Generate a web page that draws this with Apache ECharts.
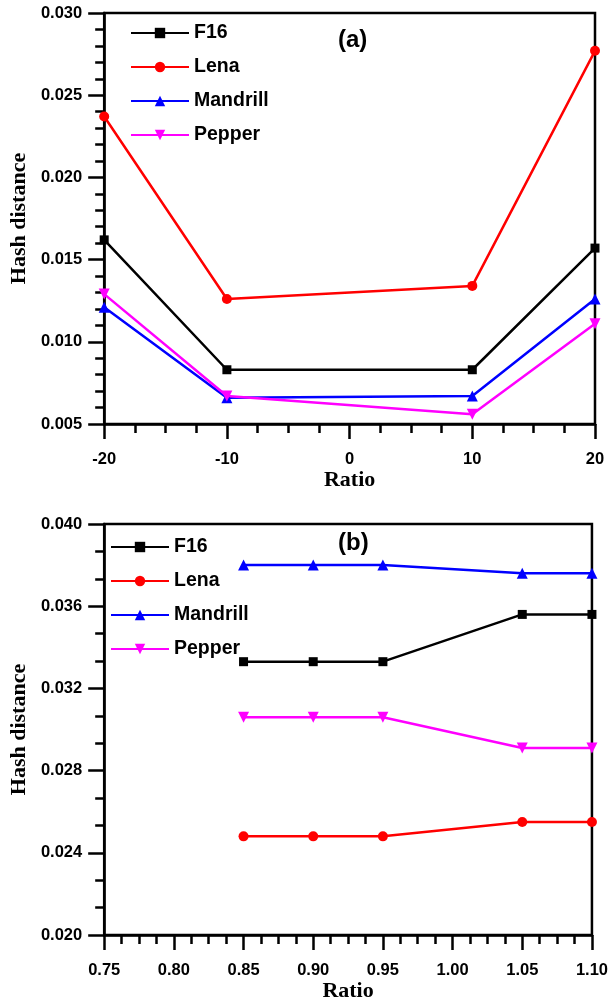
<!DOCTYPE html>
<html>
<head>
<meta charset="utf-8">
<script src="https://cdn.jsdelivr.net/npm/echarts@6/dist/echarts.min.js"></script>
<style>
html,body{margin:0;padding:0;background:#fff;}
#c{width:611px;height:1003px;}
</style>
</head>
<body>
<div id="c"></div>
<script>
// ---- data ----
var seriesNames = ['F16', 'Lena', 'Mandrill', 'Pepper'];
// panel (a)
var ratioA = [-20, -10, 10, 20];
var f16A = [0.0162, 0.0083, 0.0083, 0.0157];
var lenaA = [0.0237, 0.0126, 0.0134, 0.0277];
var mandrillA = [0.0121, 0.0066, 0.0067, 0.0126];
var pepperA = [0.0129, 0.0067, 0.0056, 0.0111];
// panel (b)
var ratioB = [0.85, 0.90, 0.95, 1.05, 1.10];
var f16B = [0.0333, 0.0333, 0.0333, 0.0356, 0.0356];
var lenaB = [0.0248, 0.0248, 0.0248, 0.0255, 0.0255];
var mandrillB = [0.0380, 0.0380, 0.0380, 0.0376, 0.0376];
var pepperB = [0.0306, 0.0306, 0.0306, 0.0291, 0.0291];

var colors = ['#000000', '#ff0000', '#0000ff', '#ff00ff'];
var symbols = ['rect', 'circle', 'triangle', 'triangle'];
var symbolSizes = [9, 10, 11, 11];
var symbolRotates = [0, 0, 0, 180];

function pairs(xs, ys) { return xs.map(function (x, i) { return [x, ys[i]]; }); }

var tickFont = { fontFamily: 'Liberation Sans, Arial, sans-serif', fontWeight: 'bold', fontSize: 16.5, color: '#000' };
var nameFont = { fontFamily: 'Liberation Serif, Times New Roman, serif', fontWeight: 'bold', fontSize: 22, color: '#000' };
var axisLine = { show: true, onZero: false, lineStyle: { color: '#000', width: 2.5 } };

function xAxis(gi, min, max, interval, minorSplit, fmt, gap) {
  return {
    type: 'value', gridIndex: gi, min: min, max: max, interval: interval,
    name: 'Ratio', nameLocation: 'middle', nameGap: gap, nameTextStyle: nameFont,
    axisLine: axisLine,
    axisTick: { show: true, inside: false, length: 15, lineStyle: { color: '#000', width: 2.5 } },
    minorTick: { show: true, splitNumber: minorSplit, length: 9, lineStyle: { color: '#000', width: 2.5 } },
    splitLine: { show: false },
    axisLabel: Object.assign({ margin: 27, formatter: fmt }, tickFont)
  };
}
function yAxis(gi, min, max, interval, minorSplit) {
  return {
    type: 'value', gridIndex: gi, min: min, max: max, interval: interval,
    name: 'Hash distance', nameLocation: 'middle', nameGap: 72, nameTextStyle: nameFont,
    axisLine: axisLine,
    axisTick: { show: true, inside: false, length: 16, lineStyle: { color: '#000', width: 2.5 } },
    minorTick: { show: true, splitNumber: minorSplit, length: 9, lineStyle: { color: '#000', width: 2.5 } },
    splitLine: { show: false },
    axisLabel: Object.assign({ margin: 22, formatter: function (v) { return v.toFixed(3); } }, tickFont)
  };
}

var dataA = [f16A, lenaA, mandrillA, pepperA];
var dataB = [f16B, lenaB, mandrillB, pepperB];
var series = [];
[ [ratioA, dataA, 0], [ratioB, dataB, 1] ].forEach(function (p) {
  seriesNames.forEach(function (n, i) {
    series.push({
      type: 'line', name: n, xAxisIndex: p[2], yAxisIndex: p[2],
      data: pairs(p[0], p[1][i]),
      symbol: symbols[i], symbolSize: symbolSizes[i], symbolRotate: symbolRotates[i],
      showAllSymbol: true,
      lineStyle: { color: colors[i], width: 2.5 },
      itemStyle: { color: colors[i] },
      emphasis: { disabled: true },
      animation: false
    });
  });
});

var legendCommon = {
  orient: 'vertical', itemWidth: 58, itemHeight: 13, itemGap: 14, padding: 0,
  textStyle: { fontFamily: 'Liberation Sans, Arial, sans-serif', fontWeight: 'bold', fontSize: 19.5, color: '#000', padding: [0, 0, 0, 0] },
  data: seriesNames, selectedMode: false
};

var chart = echarts.init(document.getElementById('c'), null, { renderer: 'canvas' });
chart.setOption({
  backgroundColor: '#fff',
  animation: false,
  grid: [
    { left: 98, top: 13, width: 497, height: 411, show: true, borderColor: '#000', borderWidth: 2.5, backgroundColor: 'transparent' },
    { left: 98, top: 524, width: 497, height: 412, show: true, borderColor: '#000', borderWidth: 2.5, backgroundColor: 'transparent' }
  ],
  xAxis: [
    xAxis(0, -20, 20, 10, 4, function (v) { return String(Math.round(v)); }, 43),
    xAxis(1, 0.75, 1.10, 0.05, 4, function (v) { return v.toFixed(2); }, 45)
  ],
  yAxis: [
    yAxis(0, 0.005, 0.030, 0.005, 5),
    yAxis(1, 0.020, 0.040, 0.004, 3)
  ],
  legend: [
    Object.assign({ left: 130, top: 23 }, legendCommon),
    Object.assign({ left: 110, top: 537 }, legendCommon)
  ],
  graphic: [
    { type: 'text', left: 338, top: 28, style: { text: '(a)', font: 'bold 24px Liberation Sans, Arial, sans-serif', fill: '#000' } },
    { type: 'text', left: 338, top: 531, style: { text: '(b)', font: 'bold 24px Liberation Sans, Arial, sans-serif', fill: '#000' } }
  ],
  series: series
});
</script>
</body>
</html>
